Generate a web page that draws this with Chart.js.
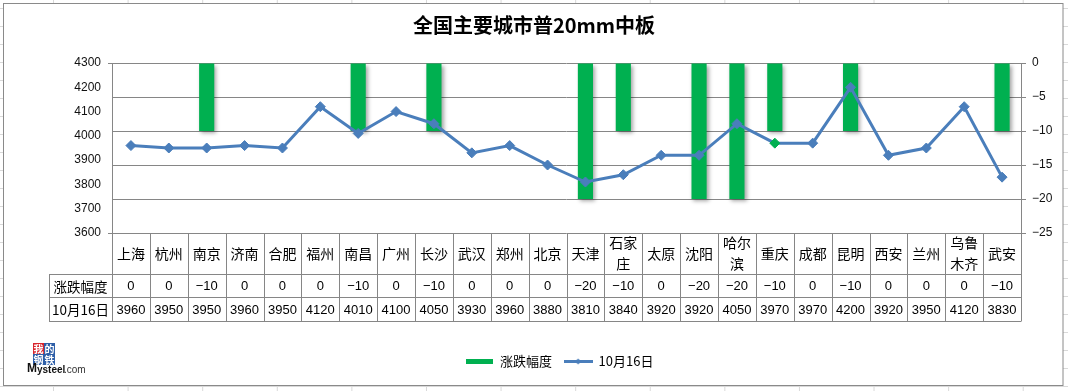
<!DOCTYPE html>
<html><head><meta charset="utf-8">
<script src="https://cdn.jsdelivr.net/npm/chart.js@4/dist/chart.umd.min.js"></script>
<style>
html,body{margin:0;padding:0;width:1068px;height:391px;overflow:hidden;}
body{background-color:#fff;
background-image:linear-gradient(to right,#d9d9d9 1px,transparent 1px),linear-gradient(to bottom,#d9d9d9 1px,transparent 1px);
background-size:74.6px 100%,100% 18px;background-position:53px 0,0 8px;}
#c{position:absolute;left:0;top:0;}
</style></head><body>
<canvas id="c" width="1068" height="391"></canvas>
<script>
// ---- data ----
const chartTitle = '全国主要城市普20mm中板';
const cities = ['上海','杭州','南京','济南','合肥','福州','南昌','广州','长沙','武汉','郑州','北京','天津','石家庄','太原','沈阳','哈尔滨','重庆','成都','昆明','西安','兰州','乌鲁木齐','武安'];
const cityTickLabels = ['上海','杭州','南京','济南','合肥','福州','南昌','广州','长沙','武汉','郑州','北京','天津',['石家','庄'],'太原','沈阳',['哈尔','滨'],'重庆','成都','昆明','西安','兰州',['乌鲁','木齐'],'武安'];
const changeLabel = '涨跌幅度';
const changes = [0,0,-10,0,0,0,-10,0,-10,0,0,0,-20,-10,0,-20,-20,-10,0,-10,0,0,0,-10];
const priceLabel = '10月16日';
const prices = [3960,3950,3950,3960,3950,4120,4010,4100,4050,3930,3960,3880,3810,3840,3920,3920,4050,3970,3970,4200,3920,3950,4120,3830];
const leftAxisTicks = [3600,3700,3800,3900,4000,4100,4200,4300];
const rightAxisTicks = [-25,-20,-15,-10,-5,0];
const highlightCity = '重庆';

// ---- styles ----
const GREEN = '#00B050', BLUE = '#4A7EBB', GRID = '#868686';
const CJK = '"Noto Sans CJK SC","Noto Sans",sans-serif';
const NUM = '"Liberation Sans",Arial,sans-serif';
const fmt = v => v < 0 ? '\u2212' + Math.abs(v) : String(v);

function makeImg(w, h, draw){ const c = document.createElement('canvas'); c.width = w; c.height = h; draw(c.getContext('2d')); return c; }
const barLegendImg = makeImg(27, 5, g => { g.fillStyle = GREEN; g.fillRect(0,0,27,5); });
const lineLegendImg = makeImg(29, 9, g => {
  g.strokeStyle = BLUE; g.lineWidth = 3; g.beginPath(); g.moveTo(0,4.5); g.lineTo(29,4.5); g.stroke();
  g.fillStyle = BLUE; g.beginPath(); g.moveTo(14.5,1.5); g.lineTo(17.5,4.5); g.lineTo(14.5,7.5); g.lineTo(11.5,4.5); g.closePath(); g.fill();
});

const framePlugin = {
  id: 'frame',
  afterLayout(chart){
    // nudge the legend block to where the original sits
    if (chart.legend) { chart.legend.left -= 7; chart.legend.right -= 7; }
  },
  beforeDraw(chart){
    const g = chart.ctx; g.save();
    g.fillStyle = '#fff'; g.fillRect(3,3,1060,383);
    g.strokeStyle = '#8a8a8a'; g.lineWidth = 1; g.strokeRect(3.5,3.5,1059.5,382);
    g.restore();
  }
};

const shadowPlugin = {
  id: 'barShadow',
  beforeDatasetDraw(chart, args){
    if (chart.data.datasets[args.index].type !== 'bar') return;
    const g = chart.ctx; g.save();
    g.shadowColor = 'rgba(0,0,0,0.35)'; g.shadowBlur = 4; g.shadowOffsetX = 2; g.shadowOffsetY = 2;
  },
  afterDatasetDraw(chart, args){
    if (chart.data.datasets[args.index].type !== 'bar') return;
    chart.ctx.restore();
  }
};

const tablePlugin = {
  id: 'dataTable',
  afterDraw(chart){
    const g = chart.ctx, ca = chart.chartArea, xs = chart.scales.x;
    const n = cities.length, w = (ca.right - ca.left) / n;
    const top = ca.bottom, r1 = top + 41, r2 = top + 64, r3 = top + 88, hl = 49;
    g.save();
    g.strokeStyle = GRID; g.lineWidth = 1;
    g.beginPath();
    [r1, r2, r3].forEach(y => { g.moveTo(hl, Math.round(y)+0.5); g.lineTo(ca.right, Math.round(y)+0.5); });
    for (let i = 0; i <= n; i++) {
      const x = Math.round(ca.left + i*w) + 0.5;
      g.moveTo(x, top); g.lineTo(x, r3 + 0.5);
    }
    g.moveTo(hl + 0.5, r1); g.lineTo(hl + 0.5, r3 + 0.5);
    g.stroke();
    g.fillStyle = '#000'; g.textAlign = 'center'; g.textBaseline = 'middle';
    g.font = '13.5px ' + CJK;
    g.fillText(changeLabel, (hl + ca.left)/2, (r1 + r2)/2 + 1);
    g.fillText(priceLabel, (hl + ca.left)/2, (r2 + r3)/2 + 1);
    g.font = '13px ' + NUM;
    for (let i = 0; i < n; i++) {
      const cx = xs.getPixelForValue(i);
      g.fillText(fmt(changes[i]), cx, (r1 + r2)/2 + 1);
      g.fillText(String(prices[i]), cx, (r2 + r3)/2 + 1);
    }
    // logo
    const lx = 33, ly = 343, s = 11;
    const cells = [['我','#d8242c'],['的','#2e5fa8'],['钢','#2e5fa8'],['铁','#2e5fa8']];
    g.font = 'bold 10px ' + CJK;
    cells.forEach((c, k) => {
      const x = lx + (k % 2) * s, y = ly + Math.floor(k / 2) * s;
      g.fillStyle = c[1]; g.fillRect(x, y, s, s);
      g.fillStyle = '#fff'; g.fillText(c[0], x + s/2, y + s/2 + 0.5);
    });
    g.textAlign = 'left'; g.fillStyle = '#111';
    g.font = 'bold 12px ' + NUM; g.fillText('M', 27, 369);
    g.font = 'bold 10px ' + NUM; g.fillText('ysteel', 37, 370);
    g.fillStyle = '#333'; g.font = '10px ' + NUM; g.fillText('.com', 64, 370);
    g.restore();
  }
};

new Chart(document.getElementById('c'), {
  type: 'bar',
  data: {
    labels: cityTickLabels,
    datasets: [
      { type: 'bar', label: changeLabel, data: changes, yAxisID: 'y1', backgroundColor: GREEN,
        barPercentage: 0.4, categoryPercentage: 1, order: 1 },
      { type: 'line', label: priceLabel, data: prices, yAxisID: 'y', borderColor: BLUE, borderWidth: 3,
        pointStyle: 'rectRot', pointRadius: 5, pointHoverRadius: 5, pointBorderWidth: 1,
        pointBackgroundColor: c => cities[c.dataIndex] === highlightCity ? GREEN : BLUE,
        pointBorderColor: c => cities[c.dataIndex] === highlightCity ? GREEN : BLUE,
        tension: 0, fill: false, order: 0 }
    ]
  },
  options: {
    responsive: false, animation: false, events: [],
    layout: { padding: { top: 0, bottom: 13, left: 0, right: 0 } },
    plugins: {
      tooltip: { enabled: false },
      title: { display: true, text: chartTitle, color: '#000',
        font: { size: 20, weight: 'bold', family: CJK, lineHeight: 1.2 }, padding: { top: 13, bottom: 26 } },
      legend: { position: 'bottom', fullSize: false,
        labels: { usePointStyle: true, pointStyleWidth: 28, padding: 12, color: '#000',
          font: { size: 13, family: CJK },
          generateLabels: () => [
            { text: changeLabel, pointStyle: barLegendImg, datasetIndex: 0, fontColor: '#000', lineWidth: 0, strokeStyle: 'transparent', fillStyle: GREEN },
            { text: priceLabel, pointStyle: lineLegendImg, datasetIndex: 1, fontColor: '#000', lineWidth: 0, strokeStyle: 'transparent', fillStyle: BLUE }
          ] } }
    },
    scales: {
      x: { type: 'category', grid: { display: false, drawTicks: false }, border: { display: false },
        ticks: { autoSkip: false, maxRotation: 0, minRotation: 0, padding: 10, crossAlign: 'center', color: '#000',
          font: { size: 14, family: CJK, lineHeight: 1.5 } },
        afterFit(s){ s.height = 110; } },
      y: { position: 'left', min: leftAxisTicks[0], max: leftAxisTicks[leftAxisTicks.length-1],
        afterBuildTicks(s){ s.ticks = leftAxisTicks.map(v => ({ value: v })); },
        ticks: { padding: 7, color: '#111', font: { size: 12, family: NUM }, callback: v => String(v) },
        grid: { drawOnChartArea: false, drawTicks: true, tickLength: 4, color: GRID,
          tickColor: c => (c.tick && (c.tick.value === 4300 || c.tick.value === 3600)) ? GRID : 'rgba(0,0,0,0)' },
        border: { color: GRID },
        afterFit(s){ s.width = 112; } },
      y1: { position: 'right', min: rightAxisTicks[0], max: rightAxisTicks[rightAxisTicks.length-1],
        afterBuildTicks(s){ s.ticks = rightAxisTicks.map(v => ({ value: v })); },
        ticks: { padding: 6, color: '#111', font: { size: 12, family: NUM }, callback: v => fmt(v) },
        grid: { color: GRID, tickLength: 5 }, border: { color: GRID },
        afterFit(s){ s.width = 47; } }
    }
  },
  plugins: [framePlugin, shadowPlugin, tablePlugin]
});
</script>
</body></html>
